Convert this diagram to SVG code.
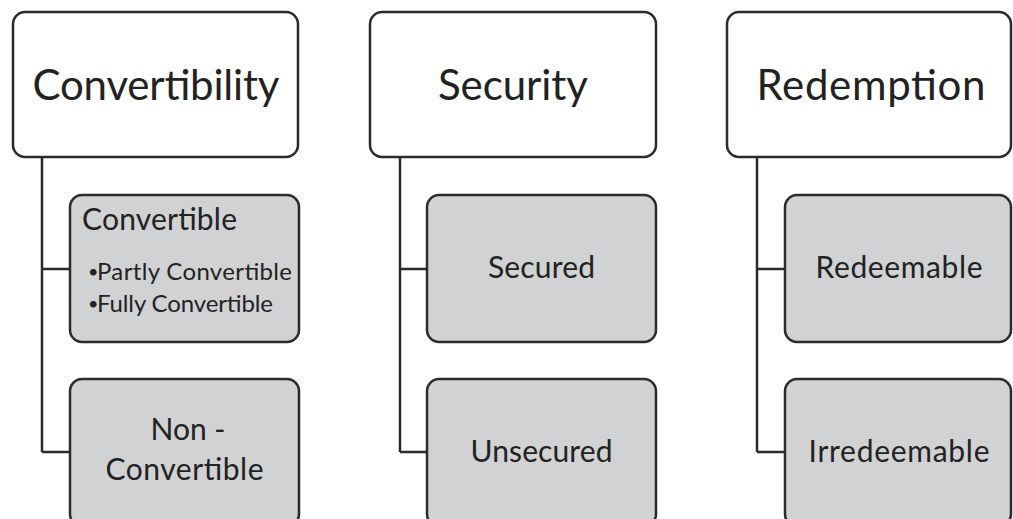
<svg xmlns="http://www.w3.org/2000/svg" width="1013" height="519" viewBox="0 0 1013 519">
  <style>
    .head { fill: #ffffff; stroke: #2b2b2b; stroke-width: 2.5; }
    .sub { fill: #d1d2d4; stroke: #2b2b2b; stroke-width: 2.5; }
    .link { fill: none; stroke: #2b2b2b; stroke-width: 2.5; }
    text { font-family: Lato, "Open Sans", sans-serif; fill: #222222; }
    .t1 { font-size: 42px; text-anchor: middle; }
    .t2 { font-size: 30px; text-anchor: middle; }
    .t3 { font-size: 30px; }
    .t4 { font-size: 24px; }
    .dot { font-size: 18px; }
  </style>
  <rect width="1013" height="519" fill="#ffffff"/>

  <!-- tree connectors -->
  <g id="connectors">
    <path class="link" d="M42 157 V452 M42 269 H70 M42 452 H70"/>
    <path class="link" d="M400 157 V452 M400 269 H427 M400 452 H427"/>
    <path class="link" d="M757 157 V452 M757 269 H785 M757 452 H785"/>
  </g>

  <!-- column 1 -->
  <g id="convertibility">
    <rect class="head" x="13" y="12" width="285" height="145" rx="12"/>
    <text class="t1" x="156" y="100" textLength="247">Convertibility</text>
  </g>
  <g id="convertible">
    <rect class="sub" x="70" y="195" width="229" height="147" rx="12"/>
    <text class="t3" x="82" y="230" textLength="155">Convertible</text>
    <text class="t4" y="280"><tspan class="dot" x="88" dy="-2">•</tspan><tspan x="97" dy="2" textLength="195">Partly Convertible</tspan></text>
    <text class="t4" y="312"><tspan class="dot" x="88" dy="-2">•</tspan><tspan x="97" dy="2" textLength="176">Fully Convertible</tspan></text>
  </g>
  <g id="non-convertible">
    <rect class="sub" x="70" y="379" width="229" height="147" rx="12"/>
    <text class="t2" x="188" y="440">Non -</text>
    <text class="t2" x="184.5" y="480" textLength="158">Convertible</text>
  </g>

  <!-- column 2 -->
  <g id="security">
    <rect class="head" x="370" y="12" width="286" height="145" rx="12"/>
    <text class="t1" x="513" y="100" textLength="150">Security</text>
  </g>
  <g id="secured">
    <rect class="sub" x="427" y="195" width="229" height="147" rx="12"/>
    <text class="t2" x="541.5" y="278" textLength="107">Secured</text>
  </g>
  <g id="unsecured">
    <rect class="sub" x="427" y="379" width="229" height="147" rx="12"/>
    <text class="t2" x="541.5" y="462" textLength="142">Unsecured</text>
  </g>

  <!-- column 3 -->
  <g id="redemption">
    <rect class="head" x="727" y="12" width="284" height="145" rx="12"/>
    <text class="t1" x="871" y="100" textLength="229">Redemption</text>
  </g>
  <g id="redeemable">
    <rect class="sub" x="785" y="195" width="226" height="147" rx="12"/>
    <text class="t2" x="899" y="278" textLength="167">Redeemable</text>
  </g>
  <g id="irredeemable">
    <rect class="sub" x="785" y="379" width="226" height="147" rx="12"/>
    <text class="t2" x="899" y="462" textLength="181">Irredeemable</text>
  </g>
</svg>
